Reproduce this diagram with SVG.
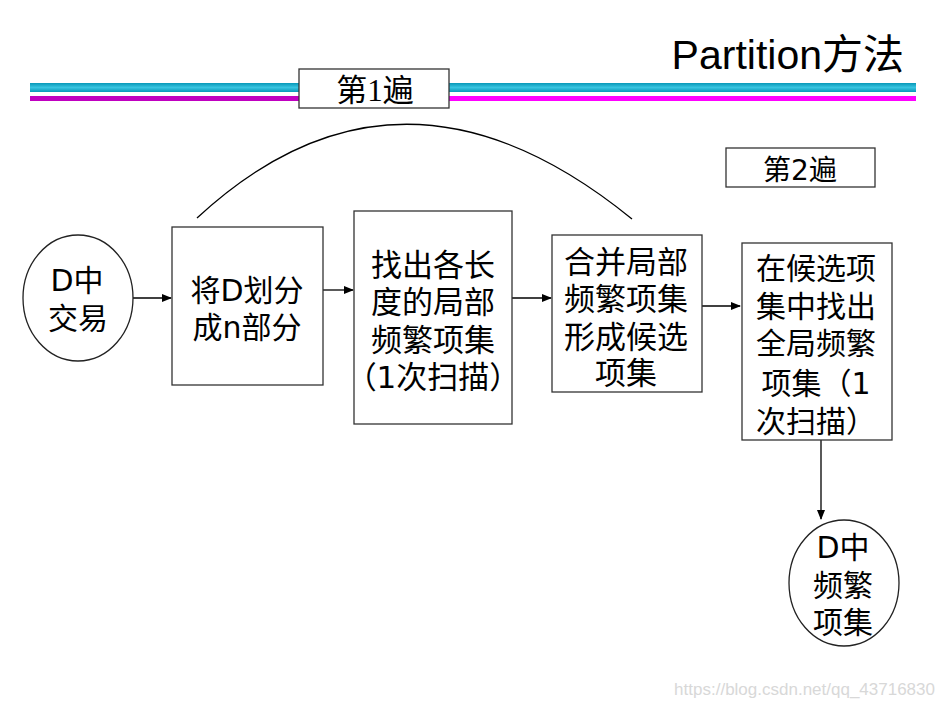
<svg xmlns="http://www.w3.org/2000/svg" width="944" height="707" viewBox="0 0 944 707">
<style>
.box{fill:#fff;stroke:#333;stroke-width:1.3}
.ell{fill:#fff;stroke:#222;stroke-width:1.3}
.t{font-family:"DejaVu Sans","Noto Sans CJK SC",sans-serif;font-size:30px;fill:#000;text-anchor:middle}
.conn{fill:none;stroke:#000;stroke-width:1.3}
</style>
<defs>
<linearGradient id="cy" x1="0" y1="0" x2="0" y2="1">
<stop offset="0" stop-color="#0898B8"/>
<stop offset="0.5" stop-color="#38C4E0"/>
<stop offset="1" stop-color="#0898B8"/>
</linearGradient>
<marker id="ah" markerWidth="10" markerHeight="8" refX="9" refY="4" orient="auto" markerUnits="userSpaceOnUse">
<path d="M0,0 L10,4 L0,8 Z" fill="#000"/>
</marker>
</defs>
<rect width="944" height="707" fill="#fff"/>
<g id="header">
<text x="904" y="69" text-anchor="end" font-family="Liberation Sans,'Noto Sans CJK SC',sans-serif" font-size="41" fill="#000">Partition方法</text>
<rect x="30" y="83" width="886" height="9" fill="url(#cy)"/>
<rect x="30" y="96" width="270" height="5" fill="#C000C0"/>
<rect x="300" y="96" width="616" height="5" fill="#FF00FF"/>
</g>
<g id="connectors">
<path class="conn" d="M197,218 Q400,30 632,219"/>
<line class="conn" x1="133" y1="298" x2="171" y2="298" marker-end="url(#ah)"/>
<line class="conn" x1="323" y1="290" x2="353" y2="290" marker-end="url(#ah)"/>
<line class="conn" x1="512" y1="298" x2="551" y2="298" marker-end="url(#ah)"/>
<line class="conn" x1="702" y1="306" x2="740" y2="306" marker-end="url(#ah)"/>
<line class="conn" x1="821" y1="440" x2="821" y2="519" marker-end="url(#ah)"/>
</g>
<g id="pass1">
<rect class="box" x="299" y="69" width="150" height="39"/>
<text x="375" y="101" text-anchor="middle" font-family="'Liberation Serif','Noto Sans CJK SC',serif" font-size="31" fill="#000">第1遍</text>
</g>
<g id="pass2">
<rect class="box" x="726" y="148" width="149" height="39"/>
<text class="t" x="800" y="180" style="font-size:28px">第2遍</text>
</g>
<g id="n-d">
<ellipse class="ell" cx="78" cy="298" rx="55" ry="63"/>
<text class="t" x="77" y="291">D中</text>
<text class="t" x="78" y="329">交易</text>
</g>
<g id="n-split">
<rect class="box" x="172" y="227" width="151" height="158"/>
<text class="t" x="247" y="301">将D划分</text>
<text class="t" x="247" y="338">成n部分</text>
</g>
<g id="n-local">
<rect class="box" x="354" y="211" width="158" height="213"/>
<text class="t" x="433" y="276" style="font-size:31px">找出各长</text>
<text class="t" x="433" y="313" style="font-size:31px">度的局部</text>
<text class="t" x="433" y="351" style="font-size:31px">频繁项集</text>
<text class="t" x="433" y="388" style="font-size:31px">（1次扫描）</text>
</g>
<g id="n-merge">
<rect class="box" x="552" y="235" width="150" height="157"/>
<text class="t" x="626" y="273" style="font-size:31px">合并局部</text>
<text class="t" x="626" y="310" style="font-size:31px">频繁项集</text>
<text class="t" x="626" y="348" style="font-size:31px">形成候选</text>
<text class="t" x="626" y="384" style="font-size:31px">项集</text>
</g>
<g id="n-global">
<rect class="box" x="742" y="243" width="150" height="197"/>
<text class="t" x="816" y="279">在候选项</text>
<text class="t" x="816" y="317">集中找出</text>
<text class="t" x="816" y="354">全局频繁</text>
<text class="t" x="816" y="394">项集（1</text>
<text class="t" x="816" y="432">次扫描）</text>
</g>
<g id="n-result">
<ellipse class="ell" cx="844" cy="583" rx="55" ry="63"/>
<text class="t" x="843" y="558">D中</text>
<text class="t" x="843" y="596">频繁</text>
<text class="t" x="843" y="633">项集</text>
</g>
<text x="935" y="695" text-anchor="end" font-family="Liberation Sans,sans-serif" font-size="17" fill="#d8d8d8">https://blog.csdn.net/qq_43716830</text>
</svg>
